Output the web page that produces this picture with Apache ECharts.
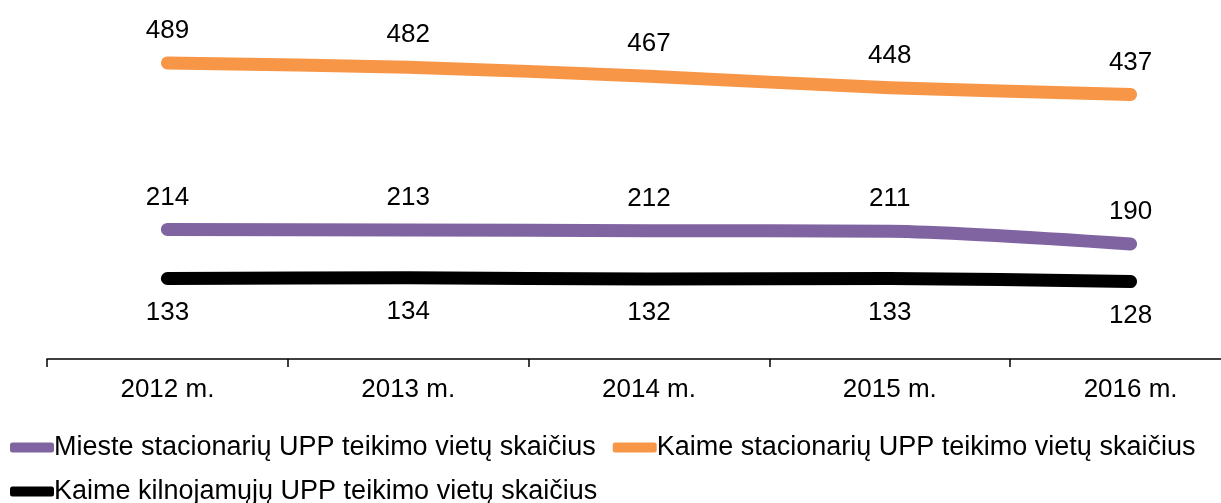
<!DOCTYPE html>
<html>
<head>
<meta charset="utf-8">
<script src="https://cdn.jsdelivr.net/npm/echarts@6/dist/echarts.min.js"></script>
<style>
  html, body { margin: 0; padding: 0; background: #fff; }
  #main { width: 1221px; height: 503px; }
</style>
</head>
<body>
<div id="main"></div>
<script>
const years = ['2012 m.', '2013 m.', '2014 m.', '2015 m.', '2016 m.']
const miesteStac = [214, 213, 212, 211, 190]
const kaimeStac = [489, 482, 467, 448, 437]
const kaimeKiln = [133, 134, 132, 133, 128]

const names = [
  'Mieste stacionarių UPP teikimo vietų skaičius',
  'Kaime stacionarių UPP teikimo vietų skaičius',
  'Kaime kilnojamųjų UPP teikimo vietų skaičius'
]

const font = 'Liberation Sans, Arial, sans-serif'

let chart = echarts.init(document.getElementById('main'))

function lineSeries(name, data, color, pos, dist) {
  return {
    name: name,
    type: 'line',
    data: data,
    smooth: 0.25,
    clip: false,
    symbol: 'circle',
    symbolSize: 0,
    itemStyle: { color: color },
    lineStyle: { color: color, width: 13, cap: 'round', join: 'round' },
    label: {
      show: true,
      position: pos,
      distance: dist,
      color: '#000',
      fontFamily: font,
      fontSize: 26
    }
  }
}

let option = {
  animation: false,
  textStyle: { fontFamily: font },
  grid: { left: 47, top: 26, width: 1204, height: 333, outerBoundsMode: 'none', containLabel: false },
  legend: {
    left: 10,
    top: 434,
    width: 1221,
    icon: 'roundRect',
    itemWidth: 44,
    itemHeight: 10,
    itemGap: 17,
    padding: 0,
    textStyle: { fontFamily: font, fontSize: 27, color: '#000', padding: [0, 16, 0, -5] },
    data: names
  },
  xAxis: {
    type: 'category',
    data: years,
    axisLine: { lineStyle: { color: '#000', width: 1.5 } },
    axisTick: { show: true, length: 8, lineStyle: { color: '#000', width: 1.5 } },
    axisLabel: { color: '#000', fontFamily: font, fontSize: 26, margin: 18 }
  },
  yAxis: {
    type: 'value',
    min: 0,
    max: 550,
    show: false,
    splitLine: { show: false }
  },
  series: [
    lineSeries(names[0], miesteStac, '#8064A2', 'top', 19),
    lineSeries(names[1], kaimeStac, '#F79646', 'top', 19),
    lineSeries(names[2], kaimeKiln, '#000000', 'bottom', 21)
  ]
}

chart.setOption(option)
</script>
</body>
</html>
